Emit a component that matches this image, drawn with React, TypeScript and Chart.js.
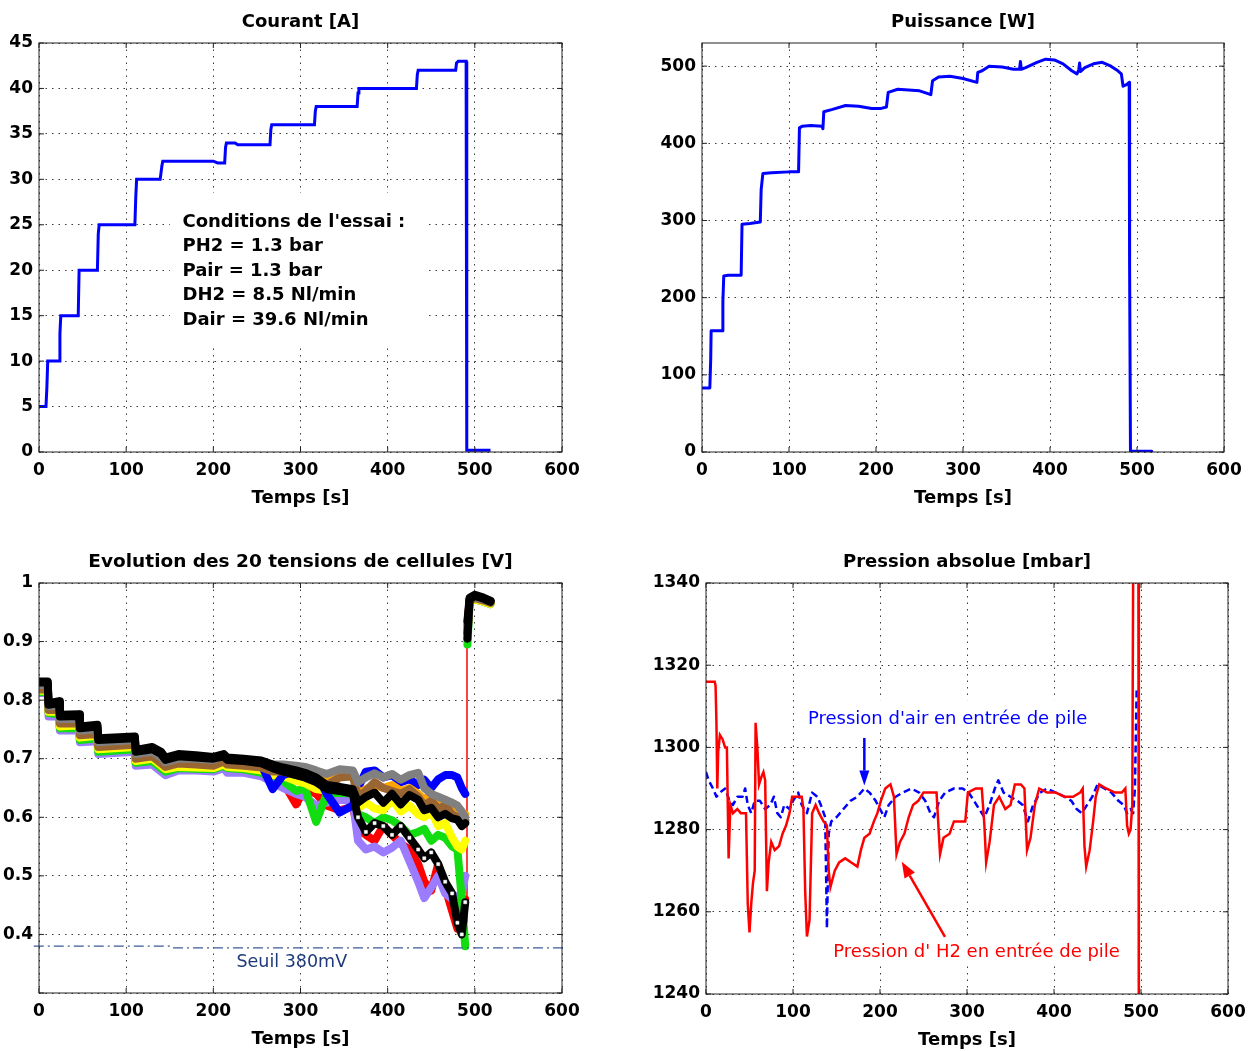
import React, { useEffect, useRef } from "react";
import { Chart, registerables } from "chart.js";

Chart.register(...registerables);

const FONT = '"DejaVu Sans", "Liberation Sans", Arial, sans-serif';
const GRID = "#3a3a3a";

// ---------------- Courant [A] ----------------
const currentTime = [0, 8, 9, 10, 23, 24, 25, 45, 46, 67, 68, 69, 110, 111, 112, 139, 141, 142, 200, 205, 213, 214, 215, 225, 228, 265, 266, 267, 316, 317, 318, 365, 366, 367, 433, 434, 435, 478, 479, 481, 490, 490.5, 491, 518];
const currentAmp = [5, 5, 7, 10, 10, 13, 15, 15, 20, 20, 24, 25, 25, 28, 30, 30, 31.5, 32, 32, 31.8, 31.8, 33.5, 34, 34, 33.8, 33.8, 35.5, 36, 36, 37.5, 38, 38, 39.5, 40, 40, 41.5, 42, 42, 42.8, 43, 43, 21.5, 0.2, 0.2];
const conditionsLines = ["Conditions de l'essai :", "PH2 = 1.3 bar", "Pair = 1.3 bar", "DH2 = 8.5 Nl/min", "Dair = 39.6 Nl/min"];

// ---------------- Puissance [W] ----------------
const powerTime = [0, 9, 10, 10.5, 23, 24, 25, 30, 45, 46, 55, 67, 68, 70, 80, 100, 111, 112, 115, 125, 138, 139, 140, 150, 165, 180, 195, 205, 212, 214, 225, 250, 258, 263, 265, 272, 285, 300, 316, 317, 322, 330, 345, 358, 365, 366, 367, 372, 385, 395, 405, 415, 425, 431, 433, 434, 435, 440, 450, 460, 470, 478, 482, 484, 488, 490, 491, 491.5, 492.5, 517];
const powerWatt = [83, 83, 120, 157, 157, 195, 228, 229, 229, 295, 296, 298, 340, 361, 362, 363, 363, 420, 422, 423, 422, 419, 441, 444, 449, 448, 445, 445, 447, 466, 470, 468, 465, 463, 481, 486, 487, 484, 479, 492, 494, 500, 499, 496, 496, 506, 496, 498, 505, 509, 508, 503, 494, 490, 495, 504, 493, 498, 503, 505, 500, 494, 490, 474, 476, 478, 479, 240, 1, 1];

// ---------------- Tensions de cellules [V] ----------------
const cellTime = [0, 10, 11, 23, 24, 46, 47, 67, 68, 110, 111, 130, 140, 145, 160, 180, 200, 212, 216, 235, 255, 268, 280, 295, 305, 318, 330, 345, 360, 366, 375, 385, 395, 405, 415, 425, 435, 442, 450, 458, 466, 474, 480, 485, 489, 491, 491.5, 494, 500, 510, 518];
const cellRed = [.820, .820, .782, .782, .758, .758, .738, .740, .718, .722, .698, .700, .688, .680, .687, .686, .684, .690, .686, .684, .678, .670, .660, .622, .650, .640, .620, .612, .618, .580, .570, .560, .585, .570, .555, .545, .520, .490, .475, .520, .480, .440, .410, .440, .460, null, .930, .970, .974, .970, .966];
const cellLavender = [.812, .812, .772, .772, .748, .748, .728, .730, .708, .712, .688, .690, .678, .672, .680, .680, .678, .684, .676, .676, .670, .660, .650, .640, .635, .620, .625, .630, .628, .560, .545, .550, .540, .548, .560, .525, .490, .462, .480, .500, .470, .460, .465, .470, .500, null, .905, .968, .972, .968, .964];
const cellGreen = [.814, .814, .778, .776, .752, .752, .732, .735, .712, .716, .693, .696, .684, .678, .684, .683, .682, .688, .684, .682, .676, .668, .662, .645, .650, .592, .640, .642, .640, .605, .600, .590, .600, .595, .585, .570, .575, .580, .560, .570, .565, .550, .545, .460, .380, null, .895, .968, .972, .968, .964];
const cellYellow = [.816, .816, .780, .780, .755, .757, .736, .739, .716, .720, .696, .700, .688, .682, .686, .685, .684, .690, .686, .684, .680, .672, .670, .662, .658, .648, .645, .650, .648, .615, .625, .615, .612, .630, .610, .620, .605, .600, .610, .585, .590, .565, .550, .545, .560, null, .910, .968, .972, .968, .964];
const cellBlue = [.825, .825, .788, .788, .765, .766, .745, .748, .725, .729, .705, .709, .698, .690, .697, .697, .695, .702, .697, .695, .690, .648, .672, .680, .685, .675, .640, .608, .620, .650, .678, .680, .668, .672, .660, .665, .655, .664, .650, .665, .672, .672, .668, .650, .640, null, .915, .972, .976, .972, .968];
const cellOrange = [.820, .820, .785, .785, .762, .762, .742, .745, .722, .726, .703, .706, .695, .688, .694, .694, .692, .698, .694, .692, .688, .682, .682, .678, .674, .665, .662, .672, .675, .640, .648, .655, .650, .655, .645, .650, .640, .630, .640, .625, .630, .620, .610, .600, .605, null, .920, .970, .975, .971, .967];
const cellBrown = [.818, .818, .783, .783, .760, .760, .740, .742, .720, .724, .700, .704, .692, .686, .692, .690, .688, .695, .690, .688, .685, .678, .678, .672, .668, .660, .655, .668, .670, .635, .645, .660, .650, .645, .640, .648, .635, .620, .628, .615, .620, .605, .600, .590, .595, null, .918, .970, .974, .970, .966];
const cellGray = [.826, .826, .790, .790, .768, .768, .748, .750, .728, .732, .708, .712, .702, .694, .700, .700, .698, .705, .700, .698, .695, .690, .690, .688, .686, .680, .674, .682, .680, .660, .668, .675, .668, .674, .664, .672, .676, .650, .640, .635, .630, .625, .620, .610, .600, null, .920, .972, .976, .972, .968];
const cellBlackOpen = [.830, .830, .792, .795, .772, .773, .752, .755, .732, .735, .712, .716, .708, .698, .704, .702, .700, .704, .698, .696, .692, .684, .678, .672, .668, .660, .648, .645, .640, .600, .575, .590, .585, .570, .585, .565, .545, .530, .540, .520, .490, .470, .420, .400, .455, null, .905, .972, .978, .973, .968];
const cellBlack = [.832, .832, .795, .798, .775, .776, .755, .758, .735, .738, .715, .720, .712, .702, .708, .706, .703, .708, .702, .700, .697, .690, .685, .680, .676, .668, .655, .652, .648, .625, .635, .642, .625, .640, .622, .638, .630, .612, .616, .600, .606, .598, .596, .585, .590, null, .935, .975, .980, .975, .970];
const cellJumpTime = [491, 491];
const cellJumpVolt = [0.42, 0.93];
const seuilTime = [-6, 150, 152, 604];
const seuilVolt = [0.38, 0.38, 0.377, 0.377];

// ---------------- Pression absolue [mbar] ----------------
const airTime = [0, 3, 8, 12, 16, 22, 27, 31, 36, 42, 45, 48, 52, 56, 62, 68, 74, 78, 82, 86, 90, 96, 100, 106, 110, 116, 122, 128, 132, 137, 139, 141, 144, 150, 158, 166, 174, 182, 188, 195, 200, 205, 210, 218, 226, 236, 245, 252, 258, 262, 268, 275, 285, 295, 302, 308, 314, 320, 326, 332, 336, 342, 350, 358, 364, 370, 376, 384, 392, 402, 412, 420, 426, 432, 438, 444, 450, 458, 466, 474, 480, 484, 488, 491, 493, 495];
const airPressure = [1294, 1292, 1290, 1288, 1289, 1290, 1287, 1286, 1288, 1288, 1290, 1286, 1284, 1287, 1287, 1285, 1286, 1288, 1284, 1283, 1286, 1285, 1287, 1289, 1286, 1284, 1289, 1288, 1286, 1283, 1256, 1279, 1282, 1283, 1285, 1287, 1288, 1290, 1289, 1287, 1285, 1283, 1286, 1288, 1289, 1290, 1289, 1287, 1284, 1283, 1287, 1289, 1290, 1290, 1289, 1287, 1285, 1283, 1286, 1290, 1292, 1289, 1288, 1287, 1286, 1282, 1286, 1289, 1290, 1289, 1288, 1287, 1285, 1284, 1286, 1288, 1291, 1290, 1289, 1287, 1286, 1284, 1285, 1284, 1290, 1314];
const h2Time = [0, 10, 11, 12, 13, 14, 16, 19, 22, 24, 26, 28, 31, 36, 40, 46, 48, 50, 52, 54, 56, 57, 59, 61, 64, 66, 68, 70, 72, 75, 79, 84, 88, 92, 96, 99, 104, 110, 112, 114, 116, 119, 122, 126, 130, 135, 139, 141, 143, 148, 153, 160, 167, 174, 178, 182, 188, 193, 197, 201, 206, 212, 216, 219, 223, 228, 233, 238, 244, 250, 258, 265, 269, 273, 280, 285, 292, 298, 301, 310, 317, 320, 322, 326, 331, 337, 344, 350, 355, 362, 366, 369, 373, 378, 383, 392, 402, 412, 422, 430, 433, 435, 437, 441, 445, 448, 452, 460, 470, 478, 482, 484, 486, 488, 490, 491, 497, 497.5];
const h2Pressure = [1316, 1316, 1315, 1306, 1290, 1299, 1303, 1302, 1300, 1300, 1273, 1286, 1284, 1285, 1284, 1284, 1262, 1255, 1262, 1267, 1270, 1306, 1300, 1291, 1293, 1294, 1292, 1265, 1272, 1277, 1275, 1276, 1279, 1281, 1284, 1288, 1288, 1288, 1285, 1265, 1254, 1258, 1284, 1286, 1284, 1282, 1281, 1270, 1266, 1270, 1272, 1273, 1272, 1271, 1275, 1278, 1279, 1282, 1284, 1287, 1290, 1291, 1288, 1274, 1277, 1279, 1283, 1286, 1287, 1289, 1289, 1289, 1274, 1278, 1279, 1282, 1282, 1282, 1289, 1290, 1290, 1281, 1272, 1277, 1286, 1288, 1285, 1286, 1291, 1291, 1290, 1275, 1278, 1286, 1290, 1289, 1289, 1288, 1288, 1289, 1290, 1276, 1271, 1275, 1282, 1288, 1291, 1290, 1289, 1289, 1290, 1281, 1279, 1280, 1286, 1345, 1345, 1230];

// ---------------- helpers ----------------
type XY = { x: number; y: number | null };
const zip = (xs: number[], ys: (number | null)[]): XY[] => xs.map((x, i) => ({ x, y: ys[i] }));

function lineDs(xs: number[], ys: (number | null)[], color: string, width: number, extra: any = {}) {
  return {
    data: zip(xs, ys),
    borderColor: color,
    backgroundColor: color,
    borderWidth: width,
    pointRadius: 0,
    fill: false,
    tension: 0,
    spanGaps: false,
    borderJoinStyle: "round",
    borderCapStyle: "round",
    ...extra,
  };
}

type Deco = (ctx: CanvasRenderingContext2D, X: (v: number) => number, Y: (v: number) => number) => void;

function framePlugin(title: string, titleSize: number, under?: Deco, over?: Deco) {
  return {
    id: "matlabFrame",
    beforeDatasetsDraw(chart: any) {
      if (!under) return;
      const X = (v: number) => chart.scales.x.getPixelForValue(v);
      const Y = (v: number) => chart.scales.y.getPixelForValue(v);
      chart.ctx.save();
      under(chart.ctx, X, Y);
      chart.ctx.restore();
    },
    afterDatasetsDraw(chart: any) {
      const { ctx, chartArea: a, scales } = chart;
      const X = (v: number) => scales.x.getPixelForValue(v);
      const Y = (v: number) => scales.y.getPixelForValue(v);
      ctx.save();
      ctx.strokeStyle = "#222";
      ctx.lineWidth = 1;
      ctx.setLineDash([]);
      ctx.strokeRect(a.left, a.top, a.right - a.left, a.bottom - a.top);
      ctx.beginPath();
      for (const t of scales.x.ticks) {
        const x = X(t.value);
        ctx.moveTo(x, a.bottom);
        ctx.lineTo(x, a.bottom - 5);
        ctx.moveTo(x, a.top);
        ctx.lineTo(x, a.top + 5);
      }
      for (const t of scales.y.ticks) {
        const y = Y(t.value);
        ctx.moveTo(a.left, y);
        ctx.lineTo(a.left + 5, y);
        ctx.moveTo(a.right, y);
        ctx.lineTo(a.right - 5, y);
      }
      ctx.stroke();
      ctx.fillStyle = "#000";
      ctx.textAlign = "center";
      ctx.textBaseline = "alphabetic";
      ctx.font = `bold ${titleSize}px ${FONT}`;
      ctx.fillText(title, (a.left + a.right) / 2, a.top - 16);
      ctx.font = `bold 18px ${FONT}`;
      ctx.fillText("Temps [s]", (a.left + a.right) / 2, a.bottom + 50.5);
      if (over) over(ctx, X, Y);
      ctx.restore();
    },
  };
}

function arrow(ctx: CanvasRenderingContext2D, x1: number, y1: number, x2: number, y2: number, color: string, width: number, headLen: number, headW: number) {
  const ang = Math.atan2(y2 - y1, x2 - x1);
  const bx = x2 - headLen * Math.cos(ang);
  const by = y2 - headLen * Math.sin(ang);
  ctx.strokeStyle = color;
  ctx.lineWidth = width;
  ctx.beginPath();
  ctx.moveTo(x1, y1);
  ctx.lineTo(bx, by);
  ctx.stroke();
  ctx.fillStyle = color;
  ctx.beginPath();
  ctx.moveTo(x2, y2);
  ctx.lineTo(bx + headW * Math.sin(ang), by - headW * Math.cos(ang));
  ctx.lineTo(bx - headW * Math.sin(ang), by + headW * Math.cos(ang));
  ctx.closePath();
  ctx.fill();
}

function whiteBox(ctx: CanvasRenderingContext2D, X: (v: number) => number, Y: (v: number) => number, x0: number, x1: number, y0: number, y1: number) {
  ctx.fillStyle = "#fff";
  const l = X(x0), r = X(x1), t = Y(y1), b = Y(y0);
  ctx.fillRect(l, t, r - l, b - t);
}

interface Panel {
  yMin: number; yMax: number; yStep: number;
  yAxisW: number; padRight: number; xAxisH: number;
  yLabel?: (v: number) => string;
}

function baseOptions(p: Panel): any {
  const tickFont = { family: FONT, size: 17, weight: "bold" };
  const gridCfg = { color: GRID, lineWidth: 1, drawTicks: false };
  const borderCfg = { display: false, dash: [1.5, 5] };
  return {
    animation: false,
    responsive: false,
    maintainAspectRatio: false,
    events: [],
    layout: { padding: { left: 0, right: p.padRight, top: 43, bottom: 0 } },
    plugins: { legend: { display: false }, tooltip: { enabled: false }, title: { display: false } },
    scales: {
      x: {
        type: "linear",
        min: 0,
        max: 600,
        afterFit: (s: any) => {
          s.height = p.xAxisH;
          s.paddingLeft = 0; s.paddingRight = 0; s.paddingTop = 0; s.paddingBottom = 0;
        },
        ticks: { stepSize: 100, includeBounds: false, font: tickFont, color: "#000", padding: 8, maxRotation: 0, autoSkip: false, callback: (v: number) => String(v) },
        grid: gridCfg,
        border: borderCfg,
      },
      y: {
        type: "linear",
        min: p.yMin,
        max: p.yMax,
        afterFit: (s: any) => {
          s.width = p.yAxisW;
          s.paddingLeft = 0; s.paddingRight = 0; s.paddingTop = 0; s.paddingBottom = 0;
        },
        ticks: {
          stepSize: p.yStep, includeBounds: false, font: tickFont, color: "#000", padding: 6, autoSkip: false,
          callback: p.yLabel ?? ((v: number) => String(Math.round(v * 1000) / 1000)),
        },
        grid: gridCfg,
        border: borderCfg,
      },
    },
  };
}

// ---------------- chart builders ----------------
// Note: Chart.js paints dataset 0 last, so the first dataset listed is the one on top.
function buildCourant(): any {
  return {
    type: "line",
    data: { datasets: [lineDs(currentTime, currentAmp, "#0000ff", 3, { borderJoinStyle: "miter", borderCapStyle: "butt" })] },
    options: baseOptions({ yMin: 0, yMax: 45, yStep: 5, yAxisW: 39, padRight: 38, xAxisH: 58 }),
    plugins: [
      framePlugin(
        "Courant [A]", 18,
        (ctx, X, Y) => whiteBox(ctx, X, Y, 150, 442, 11.7, 28.5),
        (ctx, X, Y) => {
          ctx.fillStyle = "#000";
          ctx.textAlign = "left";
          ctx.font = `bold 18px ${FONT}`;
          conditionsLines.forEach((s, i) => ctx.fillText(s, X(164.6), Y(24.79) + i * 24.6));
        }
      ),
    ],
  };
}

function buildPuissance(): any {
  return {
    type: "line",
    data: { datasets: [lineDs(powerTime, powerWatt, "#0000ff", 3)] },
    options: baseOptions({ yMin: 0, yMax: 530, yStep: 100, yAxisW: 62, padRight: 30, xAxisH: 58 }),
    plugins: [framePlugin("Puissance [W]", 18)],
  };
}

function buildCellules(): any {
  const W = 8;
  const ds = [
    lineDs(seuilTime, seuilVolt, "#3d5a99", 1.3, { borderDash: [10, 4, 2, 4], borderCapStyle: "butt", clip: false }),
    lineDs(cellTime, cellBlack, "#000000", W),
    lineDs(cellTime, cellBlackOpen, "#000000", W, {
      pointStyle: "rect",
      pointRadius: (c: any) => (c.dataIndex >= 29 && c.dataIndex <= 44 ? 2.2 : 0),
      pointBackgroundColor: "#ffffff",
      pointBorderColor: "#ffffff",
      pointBorderWidth: 0.5,
    }),
    lineDs(cellTime, cellGray, "#808080", W),
    lineDs(cellTime, cellBrown, "#996633", W),
    lineDs(cellTime, cellOrange, "#ffa500", W),
    lineDs(cellTime, cellBlue, "#0000ff", W),
    lineDs(cellTime, cellYellow, "#ffff00", W),
    lineDs(cellTime, cellGreen, "#11dd11", W),
    lineDs(cellTime, cellLavender, "#9b7cff", W),
    lineDs(cellJumpTime, cellJumpVolt, "#ff0000", 1.5, { borderCapStyle: "butt" }),
    lineDs(cellTime, cellRed, "#ff0000", W),
  ];
  return {
    type: "line",
    data: { datasets: ds },
    options: baseOptions({
      yMin: 0.3, yMax: 1, yStep: 0.1, yAxisW: 39, padRight: 38, xAxisH: 58,
      yLabel: (v: number) => (v < 0.35 ? "" : Math.abs(v - 1) < 1e-6 ? "1" : v.toFixed(1)),
    }),
    plugins: [
      framePlugin("Evolution des 20 tensions de cellules [V]", 18.5, undefined, (ctx, X, Y) => {
        ctx.fillStyle = "#1f3a7a";
        ctx.textAlign = "center";
        ctx.font = `17.5px ${FONT}`;
        ctx.fillText("Seuil 380mV", X(290), Y(0.345));
      }),
    ],
  };
}

function buildPression(): any {
  return {
    type: "line",
    data: {
      datasets: [
        lineDs(h2Time, h2Pressure, "#ff0000", 2.5, { borderJoinStyle: "miter", borderCapStyle: "butt" }),
        lineDs(airTime, airPressure, "#0000ff", 2.5, { borderDash: [7, 4], borderCapStyle: "butt" }),
      ],
    },
    options: baseOptions({ yMin: 1240, yMax: 1340, yStep: 20, yAxisW: 66, padRight: 26, xAxisH: 57 }),
    plugins: [
      framePlugin(
        "Pression absolue [mbar]", 18,
        (ctx, X, Y) => {
          whiteBox(ctx, X, Y, 108, 447, 1304, 1311.5);
          whiteBox(ctx, X, Y, 137, 485, 1246.8, 1254.1);
        },
        (ctx, X, Y) => {
          ctx.textAlign = "left";
          ctx.font = `18px ${FONT}`;
          ctx.fillStyle = "#0000ff";
          ctx.fillText("Pression d'air en entrée de pile", X(117.2), Y(1305.7));
          ctx.fillStyle = "#ff0000";
          ctx.fillText("Pression d' H2 en entrée de pile", X(146.3), Y(1248.9));
          arrow(ctx, X(182), Y(1302.3), X(182), Y(1290.7), "#0000ff", 2.5, 15, 5);
          arrow(ctx, X(274.7), Y(1253.9), X(225), Y(1272.2), "#ff0000", 2.5, 16, 6);
        }
      ),
    ],
  };
}

function ChartBox(props: { left: number; top: number; width: number; height: number; build: () => any }) {
  const ref = useRef<HTMLCanvasElement>(null);
  useEffect(() => {
    const chart = new Chart(ref.current as HTMLCanvasElement, props.build());
    return () => chart.destroy();
  }, []);
  const { left, top, width, height } = props;
  return (
    <div style={{ position: "absolute", left, top, width, height }}>
      <canvas ref={ref} width={width} height={height} style={{ width, height, display: "block" }} />
    </div>
  );
}

export default function App() {
  return (
    <div style={{ position: "absolute", left: 0, top: 0, width: 1254, height: 1051, background: "#fff" }}>
      <ChartBox left={0} top={0} width={600} height={510} build={buildCourant} />
      <ChartBox left={640} top={0} width={614} height={510} build={buildPuissance} />
      <ChartBox left={0} top={540} width={600} height={511} build={buildCellules} />
      <ChartBox left={640} top={540} width={614} height={511} build={buildPression} />
    </div>
  );
}
